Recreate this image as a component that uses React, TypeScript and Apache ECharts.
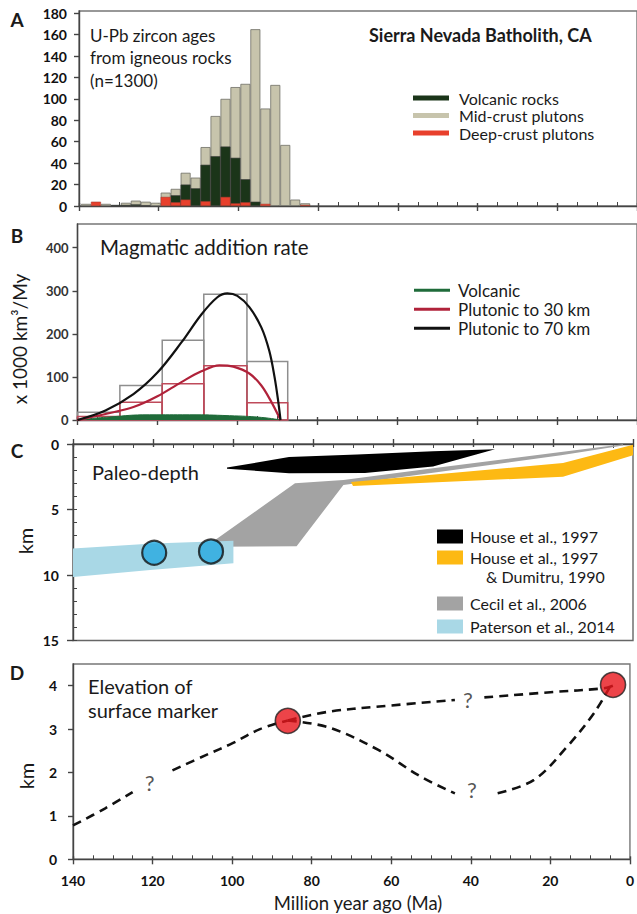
import React, { useEffect, useRef } from 'react';
import * as echarts from 'echarts';

const FONT = 'Lato, "Open Sans", sans-serif';

// ---------- Panel A: U-Pb zircon age histogram (2.5 My bins) ----------
const zirconAgeMa = [138.25, 135.75, 133.25, 130.75, 128.25, 125.75, 123.25, 120.75, 118.25, 115.75, 113.25, 110.75,
  108.25, 105.75, 103.25, 100.75, 98.25, 95.75, 93.25, 90.75, 88.25, 85.75, 83.25, 80.75];
const deepCrustCounts = [0, 4, 0, 0, 0, 0, 0, 0, 8.5, 3.5, 6, 0, 4.5, 0, 8.5, 2.5, 3.5, 0, 2, 0, 0, 0, 1, 0];
const volcanicCounts = [0, 0, 0, 1, 1, 1.5, 0.5, 0, 0, 6.5, 14, 16.5, 34, 46.5, 47, 42.5, 21.5, 4, 0, 0, 0, 0, 0, 0];
const midCrustCounts = [2, 0, 2, 0, 2, 3.5, 3.5, 3, 4, 6, 11, 10, 16.5, 37.5, 44.5, 66, 89, 161, 89, 113, 57, 6, 1.5, 0];

// ---------- Panel B: magmatic addition rate ----------
const rateBinEdgesMa = [140, 129.4, 118.8, 108.4, 97.6, 87.4];
const plutonic70Rate = [18, 80, 185, 292, 136];
const plutonic30Rate = [8, 41, 84, 126, 40];
const plutonic70Curve = [[140, 0], [133, 22], [126, 60], [120, 110], [114, 180], [109, 245], [105, 285], [102.5, 294],
  [100, 288], [97, 262], [94, 215], [92, 160], [90.7, 100], [89.8, 45], [89.2, 0]];
const plutonic30Curve = [[140, 0], [133, 14], [126, 30], [120, 55], [114, 88], [109, 113], [104.5, 127], [101, 124],
  [97, 108], [94, 80], [91.5, 42], [89.2, 0]];
const volcanicCurve = [[140, 0], [132, 7], [122, 12], [112, 12], [102, 10], [94, 6], [89.2, 0]];

// ---------- Panel C: paleo-depth (Ma, km) ----------
const house1997Poly = [[101.5, 1.8], [86, 1.0], [69, 0.8], [50, 0.55], [34.5, 0.4], [50, 1.72], [67, 2.22], [86, 2.24], [101.5, 1.88]];
const houseDumitruPoly = [[70.5, 2.9], [17.5, 1.45], [0, 0.05], [0, 0.85], [17.5, 2.5], [70, 3.2]];
const cecil2006Poly = [[105, 7.45], [84.5, 3.0], [72.4, 2.75], [50, 1.85], [18, 0.62], [2.5, 0.02], [2.5, 0.12], [18, 0.85],
  [50, 2.2], [72.4, 3.13], [84.1, 7.8], [105, 7.85]];
const paterson2014Poly = [[140, 7.97], [120, 7.6], [99.9, 7.38], [99.9, 9.1], [120, 9.6], [140, 10.15]];
const patersonSamples = [[119.7, 8.3], [105.5, 8.2]];

// ---------- Panel D: elevation of surface marker (Ma, km) ----------
const elevEarlyA = [[140, 0.78], [132, 1.17], [125, 1.55]];
const elevEarlyB = [[115, 2.05], [106.6, 2.4], [100, 2.67], [93, 3.0], [86, 3.2]];
const elevHighA = [[86, 3.2], [75.75, 3.4], [63, 3.52], [44, 3.67]];
const elevHighB = [[36.6, 3.73], [20, 3.85], [6.6, 3.94], [4.25, 4.0]];
const elevLowA = [[86, 3.2], [75.75, 3.04], [63.25, 2.52], [52.5, 1.9], [44, 1.52]];
const elevLowB = [[33.25, 1.52], [24.1, 1.83], [15.75, 2.6], [9.1, 3.36], [5, 3.98]];
const markerPoints = [[86, 3.19], [4.25, 4.02]];
const questionMarks = [[120.75, 1.78], [40.75, 3.68], [39.75, 1.6]];

const AX = { color: '#444', width: 1.4 };

function xAxesFor(gridIndex: number, position: string, showLabels: boolean) {
  return [
    {
      gridIndex, type: 'value', min: 0, max: 140, interval: 20, inverse: true, position,
      axisLine: { show: true, onZero: false, lineStyle: AX },
      axisTick: { show: true, inside: true, length: 3, lineStyle: AX },
      minorTick: { show: true, splitNumber: 4, length: 4, lineStyle: { color: '#444', width: 1 } },
      axisLabel: { show: showLabels, fontFamily: FONT, fontSize: 14, fontWeight: 'bold', color: '#111', margin: 14 },
      splitLine: { show: false }, minorSplitLine: { show: false },
    },
    {
      gridIndex, type: 'value', min: 0, max: 140, interval: 20, inverse: true, position,
      axisLine: { show: false, onZero: false },
      axisTick: { show: true, inside: false, length: 5, lineStyle: AX },
      axisLabel: { show: false }, splitLine: { show: false },
    },
  ];
}

function yAxisBase(gridIndex: number, max: number, interval: number, extra: any = {}) {
  return {
    gridIndex, type: 'value', min: 0, max, interval, position: 'left',
    axisLine: { show: true, onZero: false, lineStyle: AX },
    axisTick: { show: true, inside: false, length: 5, lineStyle: AX },
    axisLabel: { fontFamily: FONT, fontSize: 14, fontWeight: 'bold', color: '#111', margin: 12, showMaxLabel: false },
    splitLine: { show: false },
    ...extra,
  };
}

function polygonSeries(name: string, pts: number[][], color: string, z: number) {
  return {
    type: 'custom', name, xAxisIndex: 4, yAxisIndex: 2, z,
    data: pts,
    encode: { x: 0, y: 1 },
    itemStyle: { color },
    renderItem: (params: any, api: any) => {
      if (params.dataIndex !== 0) return null;
      return {
        type: 'polygon',
        shape: { points: pts.map((p) => api.coord(p)) },
        style: { fill: color, stroke: 'none' },
      };
    },
  };
}

function boxSeries(name: string, values: number[], stroke: string, z: number) {
  return {
    type: 'custom', name, xAxisIndex: 2, yAxisIndex: 1, z,
    data: values.map((v, i) => [rateBinEdgesMa[i], rateBinEdgesMa[i + 1], v]),
    encode: { x: [0, 1], y: 2 },
    itemStyle: { color: stroke },
    renderItem: (params: any, api: any) => {
      const a = api.coord([api.value(0), api.value(2)]);
      const b = api.coord([api.value(1), 0]);
      return {
        type: 'rect',
        shape: { x: Math.min(a[0], b[0]), y: a[1], width: Math.abs(b[0] - a[0]), height: b[1] - a[1] },
        style: { fill: 'none', stroke, lineWidth: 1.5 },
      };
    },
  };
}

function dashed(data: number[][]) {
  return {
    type: 'line', xAxisIndex: 6, yAxisIndex: 4, data, smooth: 0.35, symbol: 'none', z: 3,
    lineStyle: { color: '#111', width: 2.6, type: [9, 6] },
  };
}

function txt(x: number, y: number, text: string, size: number, opts: any = {}) {
  return {
    type: 'text', x, y, rotation: opts.rotation || 0, z: 100,
    style: {
      text, fontFamily: FONT, fontSize: size, fontWeight: opts.bold ? 'bold' : 'normal',
      fill: opts.fill || '#1a1a1a',
      textAlign: opts.align || 'left', textVerticalAlign: 'middle',
      align: opts.align || 'left', verticalAlign: 'middle',
    },
  };
}

// cumulative bar tops (deep at bottom, volcanic above, mid-crust on top); bars overlap instead of stacking
const deepTop = deepCrustCounts;
const volcanicTop = volcanicCounts.map((v, i) => (v > 0 ? v + deepCrustCounts[i] : 0));
const totalTop = midCrustCounts.map((v, i) => (v > 0 ? v + volcanicCounts[i] + deepCrustCounts[i] : 0));
const barData = (vals: number[]) => zirconAgeMa.map((m, i) => [m, vals[i] > 0 ? vals[i] : null]);

function histBar(name: string, vals: number[], itemStyle: any, z: number) {
  return {
    type: 'bar', name, xAxisIndex: 0, yAxisIndex: 0, barWidth: 10, barGap: '-100%', z,
    data: barData(vals), itemStyle,
  };
}

export default function App() {
  const ref = useRef<HTMLDivElement>(null);
  useEffect(() => {
    if (!ref.current) return;
    const chart = echarts.init(ref.current, null, { renderer: 'svg' });
    const legendText = { fontFamily: FONT, fontSize: 16, color: '#1a1a1a' };
    const option: any = {
      animation: false,
      backgroundColor: '#ffffff',
      textStyle: { fontFamily: FONT },
      grid: [
        { left: 79, top: 11, width: 560, height: 195, show: true, borderColor: '#777', borderWidth: 1.4, backgroundColor: 'transparent' },
        { left: 77.5, top: 224, width: 560, height: 196, show: true, borderColor: '#777', borderWidth: 1.4, backgroundColor: 'transparent' },
        { left: 73, top: 444, width: 560, height: 196.5, show: true, borderColor: '#666', borderWidth: 1.4, backgroundColor: 'transparent' },
        { left: 73, top: 664, width: 560, height: 195.3, show: true, borderColor: '#777', borderWidth: 1.4, backgroundColor: 'transparent' },
      ],
      xAxis: [
        ...xAxesFor(0, 'bottom', false),
        ...xAxesFor(1, 'bottom', false),
        ...xAxesFor(2, 'top', false),
        ...xAxesFor(3, 'bottom', true),
      ],
      yAxis: [
        yAxisBase(0, 182, 20),
        yAxisBase(1, 455, 100, {
          axisLabel: { fontFamily: FONT, fontSize: 13, fontWeight: 'bold', color: '#333', margin: 9, showMaxLabel: false },
        }),
        yAxisBase(2, 15, 5, {
          inverse: true,
          axisTick: { show: true, inside: false, length: 6, lineStyle: AX },
          axisLabel: { fontFamily: FONT, fontSize: 14, fontWeight: 'bold', color: '#111', margin: 14, showMaxLabel: true },
        }),
        {
          gridIndex: 2, type: 'value', min: 0, max: 15, interval: 1, inverse: true, position: 'left',
          axisLine: { show: false, onZero: false },
          axisTick: { show: true, inside: true, length: 4, lineStyle: { color: '#444', width: 1 } },
          axisLabel: { show: false }, splitLine: { show: false },
        },
        yAxisBase(3, 4.5, 1, {
          axisLabel: { fontFamily: FONT, fontSize: 14, fontWeight: 'bold', color: '#111', margin: 16, showMaxLabel: false },
        }),
      ],
      legend: [
        {
          data: ['Volcanic rocks', 'Mid-crust plutons', 'Deep-crust plutons'],
          orient: 'vertical', left: 408, top: 84.5, itemWidth: 36, itemHeight: 5, itemGap: 0.5, icon: 'rect',
          itemStyle: { borderWidth: 0 },
          textStyle: { ...legendText, lineHeight: 17, padding: [0, 0, 0, 5] },
        },
        {
          data: ['Volcanic', 'Plutonic to 30 km', 'Plutonic to 70 km'],
          orient: 'vertical', left: 409, top: 276, itemWidth: 36, itemHeight: 3, itemGap: 0.5, icon: 'rect',
          textStyle: { ...legendText, fontSize: 17, lineHeight: 18.5, padding: [0, 0, 0, 3] },
        },
        {
          data: ['House et al., 1997', 'House et al., 1997 & Dumitru, 1990'],
          orient: 'vertical', left: 432, top: 521, itemWidth: 26, itemHeight: 14, itemGap: 0, icon: 'rect',
          formatter: (n: string) => (n.indexOf('&') >= 0 ? 'House et al., 1997' : n),
          textStyle: { ...legendText, lineHeight: 21, padding: [0, 0, 0, 2] },
        },
        {
          data: ['Cecil et al., 2006', 'Paterson et al., 2014'],
          orient: 'vertical', left: 432, top: 587, itemWidth: 26, itemHeight: 14, itemGap: 0, icon: 'rect',
          textStyle: { ...legendText, lineHeight: 23, padding: [0, 0, 0, 2] },
        },
      ],
      series: [
        // Panel A (drawn back to front)
        histBar('Mid-crust plutons', totalTop, { color: '#c7c4ac', borderColor: '#6f6f66', borderWidth: 0.8 }, 2),
        histBar('Volcanic rocks', volcanicTop, { color: '#1b3519', borderColor: '#3a3a3a', borderWidth: 0.6 }, 3),
        histBar('Deep-crust plutons', deepTop, { color: '#e8402c', borderColor: '#9a3a2e', borderWidth: 0.5 }, 4),
        // Panel B
        boxSeries('Plutonic boxes 70', plutonic70Rate, '#8e8e8e', 2),
        boxSeries('Plutonic boxes 30', plutonic30Rate, '#bf4a5a', 3),
        {
          type: 'line', name: 'Volcanic', xAxisIndex: 2, yAxisIndex: 1, data: volcanicCurve, smooth: 0.5,
          symbol: 'none', z: 4, color: '#1f6b3a',
          lineStyle: { color: '#1f6b3a', width: 1 }, itemStyle: { color: '#1f6b3a' },
          areaStyle: { color: '#1f6b3a', opacity: 1 },
        },
        {
          type: 'line', name: 'Plutonic to 30 km', xAxisIndex: 2, yAxisIndex: 1, data: plutonic30Curve, smooth: 0.35,
          symbol: 'none', z: 5, color: '#b0223a',
          lineStyle: { color: '#b0223a', width: 2.2 }, itemStyle: { color: '#b0223a' },
        },
        {
          type: 'line', name: 'Plutonic to 70 km', xAxisIndex: 2, yAxisIndex: 1, data: plutonic70Curve, smooth: 0.35,
          symbol: 'none', z: 6, color: '#111',
          lineStyle: { color: '#111', width: 2.2 }, itemStyle: { color: '#111' },
        },
        // Panel C
        polygonSeries('Cecil et al., 2006', cecil2006Poly, '#a3a3a3', 2),
        polygonSeries('House et al., 1997 & Dumitru, 1990', houseDumitruPoly, '#fdb913', 3),
        polygonSeries('House et al., 1997', house1997Poly, '#000000', 4),
        polygonSeries('Paterson et al., 2014', paterson2014Poly, '#a9d8e6', 5),
        {
          type: 'scatter', name: 'Paterson samples', xAxisIndex: 4, yAxisIndex: 2, data: patersonSamples, z: 6,
          symbol: 'circle', symbolSize: 24,
          itemStyle: { color: '#25a9e0', borderColor: '#111', borderWidth: 2.2 },
        },
        // Panel D
        dashed(elevEarlyA), dashed(elevEarlyB), dashed(elevHighA), dashed(elevHighB), dashed(elevLowA), dashed(elevLowB),
        {
          type: 'scatter', name: 'Surface marker', xAxisIndex: 6, yAxisIndex: 4, data: markerPoints, z: 6,
          symbol: 'circle', symbolSize: 25,
          itemStyle: { color: '#e8151b', borderColor: '#222', borderWidth: 1.6 },
        },
        {
          type: 'scatter', name: 'Uncertain', xAxisIndex: 6, yAxisIndex: 4, data: questionMarks, z: 7,
          symbolSize: 0, silent: true,
          label: { show: true, position: 'inside', formatter: '?', fontFamily: FONT, fontSize: 22, color: '#2a2a2a' },
        },
      ],
      graphic: [
        txt(17, 19, 'A', 19, { bold: true, align: 'center' }),
        txt(17, 235, 'B', 19, { bold: true, align: 'center' }),
        txt(17, 450, 'C', 19, { bold: true, align: 'center' }),
        txt(17, 672, 'D', 19, { bold: true, align: 'center' }),
        txt(90, 35, 'U-Pb zircon ages', 17),
        txt(90, 57, 'from igneous rocks', 17),
        txt(90, 80, '(n=1300)', 17),
        txt(369, 35, 'Sierra Nevada Batholith, CA', 18, { bold: true }),
        txt(100, 247, 'Magmatic addition rate', 20.5),
        txt(19, 339, 'x 1000 km\u00b3/My', 19, { align: 'center', rotation: Math.PI / 2 }),
        txt(92, 472, 'Paleo-depth', 20),
        txt(25, 541, 'km', 20, { align: 'center', rotation: Math.PI / 2 }),
        txt(486, 576, '& Dumitru, 1990', 16),
        txt(88, 686, 'Elevation of', 20),
        txt(88, 710, 'surface marker', 20),
        txt(26, 776, 'km', 20, { align: 'center', rotation: Math.PI / 2 }),
        txt(358, 903, 'Million year ago (Ma)', 18.5, { align: 'center' }),
      ],
    };
    chart.setOption(option);
    return () => chart.dispose();
  }, []);
  return <div ref={ref} style={{ position: 'absolute', left: 0, top: 0, width: 637, height: 914 }} />;
}
